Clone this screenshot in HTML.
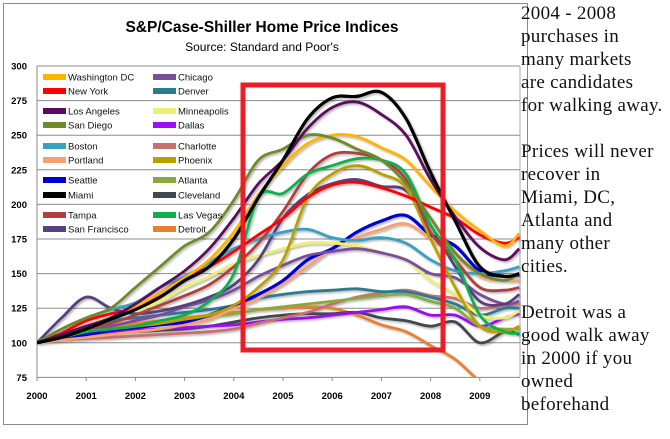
<!DOCTYPE html>
<html><head><meta charset="utf-8"><style>
body{margin:0;width:670px;height:429px;background:#fff;overflow:hidden;position:relative;font-family:"Liberation Sans",sans-serif}
#note{position:absolute;left:521px;top:2px;font-family:"Liberation Serif",serif;font-size:19px;line-height:23px;color:#111;width:150px;white-space:nowrap;letter-spacing:0.3px}
#note p{margin:0 0 23px 0}
</style></head><body>
<svg id="chart" width="670" height="429" style="position:absolute;left:0;top:0">
<defs>
<clipPath id="pc"><rect x="37" y="60" width="484" height="317"/></clipPath>
<filter id="sh" x="-5%" y="-5%" width="110%" height="110%"><feDropShadow dx="1.5" dy="1.5" stdDeviation="1" flood-color="#000" flood-opacity="0.3"/></filter>
</defs>
<rect x="3.5" y="3.5" width="524" height="421" fill="#fff" stroke="#888" stroke-width="1"/>
<text x="262" y="32" text-anchor="middle" font-size="15.5" font-weight="bold">S&amp;P/Case-Shiller Home Price Indices</text>
<text x="262" y="51" text-anchor="middle" font-size="12">Source: Standard and Poor's</text>
<g id="grid"></g><g id="axes"></g>
<g id="lines" clip-path="url(#pc)" filter="url(#sh)"></g>
<g id="legend"></g>
<rect x="243" y="85" width="200" height="265" fill="none" stroke="#ee1c25" stroke-width="5"/>
</svg>
<div id="note">
<p>2004 - 2008<br>purchases in<br>many markets<br>are candidates<br>for walking away.</p>
<p>Prices will never<br>recover in<br>Miami, DC,<br>Atlanta and<br>many other<br>cities.</p>
<p>Detroit was a<br>good walk away<br>in 2000 if you<br>owned<br>beforehand</p>
</div>
<script>
const times=[2000,2000.5,2001,2001.5,2002,2002.5,2003,2003.5,2004,2004.5,2005,2005.5,2006,2006.5,2007,2007.5,2008,2008.5,2009,2009.5,2009.8];
const yTicks=[75,100,125,150,175,200,225,250,275,300];
const xTicks=[2000,2001,2002,2003,2004,2005,2006,2007,2008,2009];
const names=["Washington DC","New York","Los Angeles","San Diego","Boston","Portland","Seattle","Miami","Tampa","San Francisco","Chicago","Denver","Minneapolis","Dallas","Charlotte","Phoenix","Atlanta","Cleveland","Las Vegas","Detroit"];
const colors=["#ffb400","#ff0000","#5c0a5c","#6e8a2a","#3a9fc0","#f7a070","#0000d0","#000000","#b04040","#584080","#785098","#2a7a90","#eeee70","#9a10f0","#c87070","#b8a000","#88aa40","#404850","#10b050","#e88030"];
const sDC=[100,106,112,118,126,136,147,160,180,207,228,244,250,249,241,232,213,195,181,170,179];
const sNY=[100,107,116,121,125,136,147,155,166,178,190,205,214,216,212,206,198,190,178,172,176];
const sLA=[100,106,112,118,128,140,152,168,190,215,232,255,270,274,265,250,218,191,169,160,168];
const sSD=[100,110,118,125,140,155,170,180,203,232,240,250,248,240,232,215,190,165,150,145,150];
const sBOS=[100,110,118,124,129,140,148,158,168,175,180,182,176,174,176,172,160,152,150,152,155];
const sPOR=[100,102,104,106,108,110,113,117,125,132,143,155,168,176,182,186,175,163,148,145,145];
const sSEA=[100,104,106,109,111,113,115,120,127,135,145,160,168,180,188,192,178,170,152,148,149];
const sMIA=[100,104,110,117,124,133,145,155,175,205,232,262,277,278,281,262,223,188,155,148,150];
const sTPA=[100,106,110,114,120,127,134,142,155,172,195,222,236,237,232,218,180,160,140,138,140];
const sSF=[100,118,133,125,121,123,127,133,142,160,190,207,215,218,213,210,185,155,130,128,135];
const sCHI=[100,104,108,112,116,120,126,131,138,148,156,163,166,168,165,160,150,147,135,128,130];
const sDEN=[100,106,112,116,118,120,122,124,127,132,135,137,138,139,137,137,133,128,120,125,125];
const sMIN=[100,106,112,118,123,130,140,148,157,163,168,172,172,170,165,160,145,135,120,118,123];
const sDAL=[100,103,106,108,109,110,111,112,113,115,117,118,120,122,124,126,120,120,112,118,121];
const sCLT=[100,102,103,104,105,106,107,108,110,114,118,122,128,133,136,138,134,132,125,127,128];
const sPHX=[100,104,108,110,112,114,117,120,127,140,160,205,222,228,222,212,175,140,112,108,112];
const sATL=[100,104,108,110,112,114,116,119,121,124,126,128,130,132,134,135,130,125,112,110,110];
const sCLE=[100,103,106,107,108,109,110,112,115,118,120,121,121,122,118,116,112,115,100,108,106];
const sLV=[100,104,108,110,112,116,120,130,150,205,208,222,228,233,232,222,185,160,120,108,107];
const sDET=[100,105,110,112,114,116,118,120,122,124,125,126,125,120,113,108,98,88,72,60,55];
const series=[sDC,sNY,sLA,sSD,sBOS,sPOR,sSEA,sMIA,sTPA,sSF,sCHI,sDEN,sMIN,sDAL,sCLT,sPHX,sATL,sCLE,sLV,sDET];
const NS="http://www.w3.org/2000/svg";
function xs(t){return 37+(t-2000)*49.2;}
function ys(v){return 66+(300-v)*1.384;}
function mk(tag,parent,attrs){const e=document.createElementNS(NS,tag);for(const k in attrs)e.setAttribute(k,attrs[k]);parent.appendChild(e);return e;}
const grid=document.getElementById('grid'),axes=document.getElementById('axes'),lines=document.getElementById('lines'),leg=document.getElementById('legend');
yTicks.forEach(v=>{
 const l=mk('line',grid,{x1:37,x2:520,y1:ys(v),y2:ys(v),stroke:'#8c8c8c','stroke-width':1});
 
 
 const t=mk('text',axes,{x:27,y:ys(v)+3.5,'text-anchor':'end','font-size':9.5,'font-weight':'bold'});
 t.textContent=v;
 
 
});
const ax=mk('line',axes,{x1:37,x2:37,y1:66,y2:377,stroke:'#888'});


const rx=mk('line',axes,{x1:520,x2:520,y1:66,y2:377,stroke:'#aaa'});


xTicks.forEach(t=>{
 const tk=mk('line',axes,{x1:xs(t),x2:xs(t),y1:377,y2:381,stroke:'#888'});
 
 
 const tx=mk('text',axes,{x:xs(t),y:399,'text-anchor':'middle','font-size':9.5,'font-weight':'bold'});
 tx.textContent=t;
 
 
});
function path(vals){
 const p=vals.map((v,i)=>[xs(times[i]),ys(v)]);
 let d='M'+p[0][0].toFixed(1)+','+p[0][1].toFixed(1);
 for(let i=0;i<p.length-1;i++){
  const p0=p[i-1]||p[i],p1=p[i],p2=p[i+1],p3=p[i+2]||p2;
  const c1=[p1[0]+(p2[0]-p0[0])/6,p1[1]+(p2[1]-p0[1])/6],c2=[p2[0]-(p3[0]-p1[0])/6,p2[1]-(p3[1]-p1[1])/6];
  d+=' C'+c1.map(n=>n.toFixed(1))+' '+c2.map(n=>n.toFixed(1))+' '+p2.map(n=>n.toFixed(1));
 }
 return d;
}
const order=[19,17,13,14,16,11,5,6,12,10,9,4,15,8,18,1,0,3,2,7];
order.forEach(i=>{
 const pa=mk('path',lines,{d:path(series[i]),fill:'none',stroke:colors[i],'stroke-width':(i==7||i==6)?3.2:2.8,'stroke-linejoin':'round'});
 
 
});
const legIdx=[[0,"Washington DC"],[1,"New York"],[2,"Los Angeles"],[3,"San Diego"],[4,"Boston"],[5,"Portland"],[6,"Seattle"],[7,"Miami"],[8,"Tampa"],[9,"San Francisco"]];
const legIdx2=[[10,"Chicago"],[11,"Denver"],[12,"Minneapolis"],[13,"Dallas"],[14,"Charlotte"],[15,"Phoenix"],[16,"Atlanta"],[17,"Cleveland"],[18,"Las Vegas"],[19,"Detroit"]];
const rowY=[77,91,111,125,146,160,180,195,215,229];
[[legIdx,43],[legIdx2,153]].forEach(([arr,x])=>{
 arr.forEach(([ci,nm],r)=>{
  const g=mk('g',leg,{});
  
  
  mk('rect',g,{x:x,y:rowY[r]-3,width:23,height:6,fill:colors[ci]});
  const t=mk('text',g,{x:x+25,y:rowY[r]+3.5,'font-size':9.5,fill:'#111'});
  t.textContent=nm;
 });
});
</script>
</body></html>
